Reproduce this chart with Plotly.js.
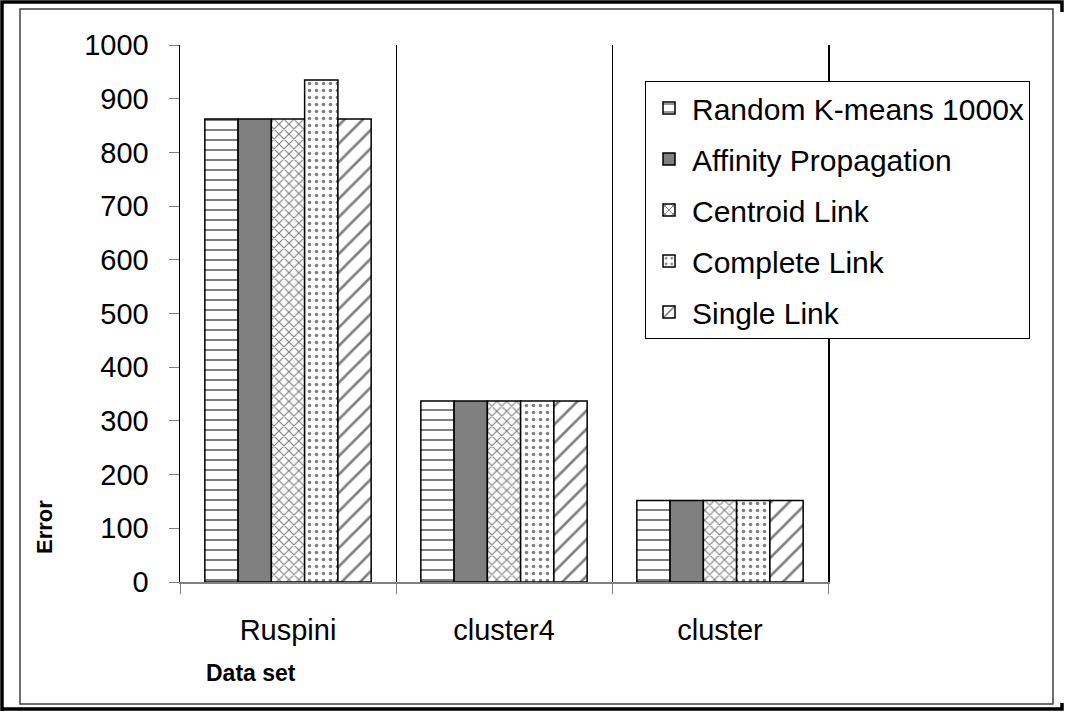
<!DOCTYPE html>
<html>
<head>
<meta charset="utf-8">
<script src="https://cdn.plot.ly/plotly-3.0.1.min.js"></script>
<style>html,body{margin:0;padding:0;background:#fff;}#chart{width:1069px;height:713px;}</style>
</head>
<body>
<div id="chart"></div>
<script>
const categories = ["Ruspini", "cluster4", "cluster"];
const seriesNames = ["Random K-means 1000x", "Affinity Propagation", "Centroid Link", "Complete Link", "Single Link"];
const randomKmeans = [862, 337, 152];
const affinityProp = [862, 337, 152];
const centroidLink = [862, 337, 152];
const completeLink = [935, 337, 152];
const singleLink = [862, 337, 152];
const yTicks = [0, 100, 200, 300, 400, 500, 600, 700, 800, 900, 1000];

const seriesValues = [randomKmeans, affinityProp, centroidLink, completeLink, singleLink];
const styles = [
  {color: "#ffffff", pattern: {shape: "-", size: 10, solidity: 0.2, fgcolor: "#000", bgcolor: "#fff", fillmode: "overlay"}},
  {color: "#808080", pattern: {shape: ""}},
  {color: "#ffffff", pattern: {shape: "x", size: 7, solidity: 0.3, fgcolor: "#000", bgcolor: "#fff", fillmode: "overlay"}},
  {color: "#ffffff", pattern: {shape: ".", size: 7, solidity: 0.2, fgcolor: "#000", bgcolor: "#fff", fillmode: "overlay"}},
  {color: "#ffffff", pattern: {shape: "/", size: 13, solidity: 0.2, fgcolor: "#000", bgcolor: "#fff", fillmode: "overlay"}}
];

const traces = seriesNames.map((name, i) => ({
  type: "bar",
  name: name,
  x: categories,
  y: seriesValues[i],
  legendgroup: "g" + i,
  marker: {
    color: styles[i].color,
    pattern: styles[i].pattern,
    line: {color: "#000", width: 1.5}
  }
}));

// pixel -> paper helpers (plot area: x 180..828, y 45..582)
const L = 180, R = 828, T = 45, B = 582;
const px = v => (v - L) / (R - L);
const py = v => (B - v) / (B - T);

const font = {family: "Arial, 'Liberation Sans', sans-serif", color: "#000"};

const layout = {
  width: 1069, height: 713,
  margin: {l: L, r: 1069 - R, t: T, b: 713 - B, autoexpand: false},
  paper_bgcolor: "#fff", plot_bgcolor: "#fff",
  barmode: "group", bargap: 0.23, bargroupgap: 0,
  font: Object.assign({size: 29}, font),
  showlegend: true,
  legend: {
    x: px(645), y: py(81), xanchor: "left", yanchor: "top",
    bgcolor: "#fff", bordercolor: "#000", borderwidth: 1,
    font: Object.assign({size: 30}, font),
    tracegroupgap: 9, itemwidth: 36
  },
  xaxis: {
    type: "category", tickson: "boundaries", ticks: "outside", ticklen: 10,
    tickcolor: "#808080", showgrid: true, gridcolor: "#000", gridwidth: 1,
    showline: true, linecolor: "#808080", linewidth: 1.5,
    tickfont: Object.assign({size: 29}, font), ticklabelstandoff: 22,
    zeroline: false
  },
  yaxis: {
    range: [0, 1000], tickvals: yTicks, ticktext: yTicks.map(String),
    ticks: "outside", ticklen: 10, tickcolor: "#808080",
    showgrid: false, zeroline: false, showline: true, mirror: true,
    linecolor: "#000", linewidth: 1.5,
    tickfont: Object.assign({size: 29}, font), ticklabelstandoff: 14
  },
  annotations: [
    {text: "<b>Error</b>", xref: "paper", yref: "paper", x: px(44), y: py(527), textangle: -90,
     showarrow: false, font: Object.assign({size: 22}, font), xanchor: "center", yanchor: "middle"},
    {text: "<b>Data set</b>", xref: "paper", yref: "paper", x: px(251), y: py(673),
     showarrow: false, font: Object.assign({size: 23}, font), xanchor: "center", yanchor: "middle"}
  ],
  shapes: [
    {type: "rect", xref: "paper", yref: "paper", x0: px(20), x1: px(1053), y0: py(704), y1: py(9),
     line: {color: "#404040", width: 1.5}, fillcolor: "rgba(0,0,0,0)", layer: "below"},
    {type: "path", xref: "paper", yref: "paper",
     path: `M ${px(2)} ${py(711)} L ${px(2)} ${py(2)} L ${px(1062)} ${py(2)} L ${px(1062)} ${py(12)}`,
     line: {color: "#000", width: 3.5}},
    {type: "path", xref: "paper", yref: "paper",
     path: `M ${px(2)} ${py(709)} L ${px(1062)} ${py(709)} L ${px(1062)} ${py(703)}`,
     line: {color: "#000", width: 3.5}}
  ]
};

Plotly.newPlot("chart", traces, layout, {displayModeBar: false, staticPlot: true});
</script>
</body>
</html>
